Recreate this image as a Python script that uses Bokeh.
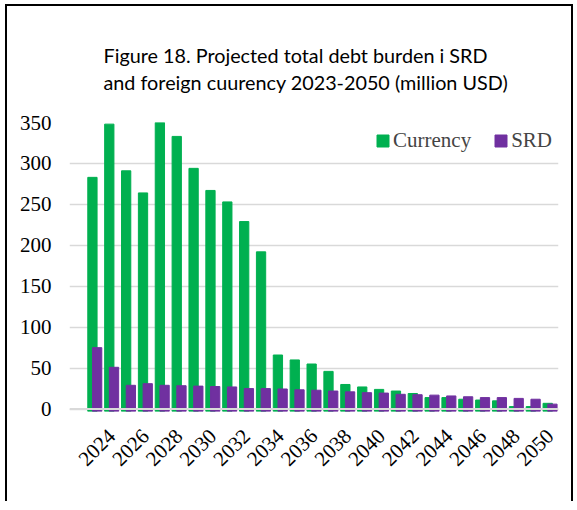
import math
from bokeh.plotting import figure
from bokeh.models import (Range1d, FixedTicker, Legend, LegendItem, Span, Title,
                          ColumnDataSource)
from bokeh.transform import dodge
from bokeh.embed import file_html
from bokeh.resources import INLINE

# ---- data ----
years = list(range(2023, 2051))
currency = [283, 348, 291, 264, 360, 333, 294, 267, 253, 229, 192, 66, 60, 55,
            46, 30, 27, 24, 22, 19, 14, 14, 12, 11, 10, 3, 3, 7]
srd = [75, 51, 29, 31, 29, 28.5, 28, 27.5, 27, 25, 25, 24.5, 23.5, 23,
       22, 21, 20, 19.5, 18, 17.5, 17, 16, 15, 14, 14, 13, 12, 6]
tick_years = list(range(2024, 2051, 2))
y_ticks = list(range(0, 351, 50))
title_text = ("Figure 18. Projected total debt burden i SRD\n"
              "and foreign cuurency 2023-2050 (million USD)")
series_names = ["Currency", "SRD"]
colors = ["#00B050", "#7030A0"]

src = ColumnDataSource(dict(year=years, currency=currency, srd=srd))

p = figure(frame_width=489, frame_height=289, output_backend="svg",
           toolbar_location=None,
           x_range=Range1d(2021.5, 2050.5), y_range=Range1d(-3, 350),
           min_border_left=62, min_border_right=13, min_border_top=116,
           min_border_bottom=90)
p.title.visible = False
p.outline_line_color = None
p.background_fill_color = "white"
p.border_fill_color = "white"
p.styles = {"margin-left": "5px", "margin-top": "4px",
            "border-left": "2px solid black", "border-top": "2px solid black",
            "border-right": "2px solid black"}

g = p.vbar(x=dodge("year", -0.14), top="currency", bottom=-3,
           width=0.55, source=src, fill_color=colors[0], line_color=colors[0])
pu = p.vbar(x=dodge("year", 0.14), top="srd", bottom=-3,
            width=0.55, source=src, fill_color=colors[1], line_color=colors[1])

zero = Span(location=0, dimension="width", line_color="#D9D9D9", line_width=2,
            level="overlay")
p.add_layout(zero)

p.xgrid.visible = False
p.ygrid.grid_line_color = "#D9D9D9"
p.ygrid.grid_line_width = 1.5
p.ygrid.ticker = FixedTicker(ticks=y_ticks)

xax = p.xaxis[0]
yax = p.yaxis[0]
yax.ticker = FixedTicker(ticks=y_ticks)
xax.ticker = FixedTicker(ticks=tick_years)
for ax in (xax, yax):
    ax.axis_line_color = None
    ax.major_tick_line_color = None
    ax.minor_tick_line_color = None
    ax.major_tick_out = 0
    ax.major_tick_in = 0
    ax.minor_tick_out = 0
    ax.major_label_text_font = "Liberation Serif"
    ax.major_label_text_font_size = "21px"
    ax.major_label_text_font_style = "normal"
    ax.major_label_text_color = "black"
yax.major_label_standoff = 18
xax.major_label_standoff = 21
xax.major_label_orientation = math.pi / 4

legend = Legend(items=[LegendItem(label=series_names[0], renderers=[g]),
                       LegendItem(label=series_names[1], renderers=[pu])],
                orientation="horizontal", location="top_right",
                label_text_font="Liberation Serif", label_text_font_size="21px",
                glyph_width=15, glyph_height=15, label_standoff=3, spacing=22,
                padding=4, margin=6, border_line_color=None,
                background_fill_color="white", background_fill_alpha=1.0)
p.add_layout(legend)

t = Title(text=title_text, align="left", text_font="Lato",
          text_font_size="19.8px", text_font_style="normal", standoff=56,
          offset=34, text_color="black", text_line_height=1.14)
p.add_layout(t, "above")

open("out.html", "w").write(file_html(p, INLINE))
